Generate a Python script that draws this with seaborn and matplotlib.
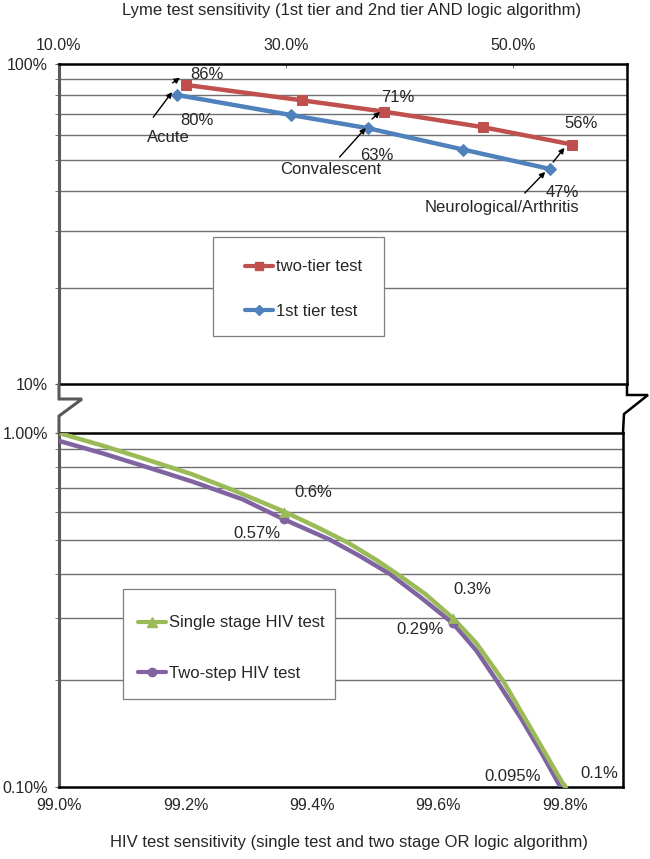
import numpy as np
import pandas as pd
import seaborn as sns
import matplotlib.pyplot as plt
from matplotlib.lines import Line2D
from matplotlib.patches import Rectangle
from matplotlib.ticker import NullFormatter

# Lyme: 1st tier and two-tier sensitivity by disease stage (percent)
lyme_first_x = [20.4, 30.4, 37.2, 45.6, 53.2]
lyme_first_y = [80, 69.3, 63, 54, 47]
lyme_two_x = [21.2, 31.4, 38.6, 47.3, 55.2]
lyme_two_y = [86, 77, 71, 63.5, 56]

# HIV: curves (percent)
hiv_single_x = [99.0, 99.07, 99.14, 99.21, 99.275, 99.356, 99.41, 99.457, 99.50, 99.539,
                99.58, 99.623, 99.66, 99.702, 99.74, 99.772, 99.8]
hiv_single_y = [1.0, 0.92, 0.84, 0.765, 0.69, 0.60, 0.54, 0.49, 0.44, 0.395,
                0.35, 0.30, 0.255, 0.20, 0.153, 0.122, 0.10]
hiv_two_x = [99.0, 99.07, 99.14, 99.21, 99.29, 99.356, 99.428, 99.475, 99.523, 99.575,
             99.623, 99.66, 99.692, 99.73, 99.764, 99.8]
hiv_two_y = [0.95, 0.875, 0.80, 0.73, 0.65, 0.57, 0.50, 0.45, 0.40, 0.34,
             0.29, 0.243, 0.20, 0.157, 0.124, 0.095]
# marked points
hiv_single_mx = [99.356, 99.623, 99.8]
hiv_single_my = [0.6, 0.3, 0.1]
hiv_two_mx = [99.356, 99.623, 99.8]
hiv_two_my = [0.57, 0.29, 0.095]

RED, BLUE, GREEN, PURPLE = "#C0504D", "#4F81BD", "#9BBB59", "#8064A2"
W, H = 650, 859

sns.set_style("white")
plt.rcParams["font.family"] = ["Liberation Sans", "DejaVu Sans"]

fig = plt.figure(figsize=(6.5, 8.59), dpi=100)

def fx(px):
    return px / W

def fy(py):
    return 1 - py / H

ax1 = fig.add_axes([fx(59), fy(384), fx(627 - 59), (384 - 64) / H])
ax2 = fig.add_axes([fx(59), fy(787), fx(623 - 59), (787 - 433) / H])

# ---------- top panel (Lyme) ----------
sns.lineplot(x=lyme_two_x, y=lyme_two_y, ax=ax1, color=RED, lw=3.2, marker="s", markersize=7,
             markeredgecolor=RED, sort=False, legend=False, zorder=3)
sns.lineplot(x=lyme_first_x, y=lyme_first_y, ax=ax1, color=BLUE, lw=3.2, marker="D", markersize=6,
             markeredgecolor=BLUE, sort=False, legend=False, zorder=3)
ax1.set_yscale("log")
ax1.set_xlim(10, 60)
ax1.set_ylim(10, 100)
ax1.xaxis.tick_top()
ax1.set_xticks([10, 30, 50])
ax1.set_xticklabels(["10.0%", "30.0%", "50.0%"])
ax1.set_yticks([10, 100])
ax1.set_yticklabels(["10%", "100%"])
ax1.set_yticks(list(range(20, 100, 10)), minor=True)
ax1.yaxis.set_minor_formatter(NullFormatter())
ax1.tick_params(axis="x", which="major", direction="in", length=3, color="#808080",
                top=True, bottom=False, labeltop=True, labelbottom=False, pad=8, labelsize=11.5)
ax1.tick_params(axis="y", which="both", direction="out", length=3, color="#595959",
                left=True, pad=5, labelsize=11.5)
ax1.set_axisbelow(True)
ax1.grid(axis="y", which="minor", color="#707070", lw=1.0)
ax1.grid(axis="x", visible=False)

# labels and arrows
def arrow(ax, tail, head):
    ax.annotate("", xy=head, xytext=tail,
                arrowprops=dict(arrowstyle="-|>", color="black", lw=1, mutation_scale=8,
                                shrinkA=0, shrinkB=0))

for txt, x, y in [("86%", 23.0, 92.4), ("80%", 22.1, 66.8), ("Acute", 19.6, 59.1),
                  ("71%", 39.8, 78.8), ("63%", 38.0, 51.9), ("Convalescent", 33.9, 46.7),
                  ("56%", 56.0, 65.0), ("47%", 54.3, 39.8), ("Neurological/Arthritis", 49.0, 35.5)]:
    ax1.text(x, y, txt, ha="center", va="center", fontsize=12)
arrow(ax1, (18.3, 68.2), (19.95, 81.7))
arrow(ax1, (20.0, 87.3), (20.65, 90.6))
arrow(ax1, (34.7, 51.2), (37.0, 63.1))
arrow(ax1, (37.55, 67.3), (38.26, 70.8))
arrow(ax1, (51.0, 39.5), (52.8, 46.0))
arrow(ax1, (53.5, 49.4), (54.5, 54.7))

ax1.add_patch(Rectangle((fx(213), fy(336)), fx(384 - 213), (336 - 237) / H, transform=fig.transFigure,
                        facecolor="white", edgecolor="#7f7f7f", lw=0.9, zorder=1.5))
h1 = [Line2D([], [], color=RED, lw=3, marker="s", markersize=6),
      Line2D([], [], color=BLUE, lw=3, marker="D", markersize=5)]
ax1.legend(h1, ["two-tier test", "1st tier test"], loc="upper left",
           bbox_to_anchor=(fx(237), fy(251)), bbox_transform=fig.transFigure, frameon=False,
           borderpad=0, handlelength=1.68, handletextpad=0.15, labelspacing=1.77, fontsize=12)

# ---------- bottom panel (HIV) ----------
sns.lineplot(x=hiv_two_x, y=hiv_two_y, ax=ax2, color=PURPLE, lw=3.2, sort=False, legend=False,
             zorder=3, solid_joinstyle="round")
sns.lineplot(x=hiv_single_x, y=hiv_single_y, ax=ax2, color=GREEN, lw=3.2, sort=False, legend=False,
             zorder=3, solid_joinstyle="round")
sns.scatterplot(x=hiv_two_mx, y=hiv_two_my, ax=ax2, color=PURPLE, marker="o", s=50, linewidth=0,
                legend=False, zorder=4)
sns.scatterplot(x=hiv_single_mx, y=hiv_single_my, ax=ax2, color=GREEN, marker="^", s=60, linewidth=0,
                legend=False, zorder=4)
ax2.set_yscale("log")
ax2.set_xlim(99.0, 99.892)
ax2.set_ylim(0.1, 1.0)
ax2.set_xticks([99.0, 99.2, 99.4, 99.6, 99.8])
ax2.set_xticklabels(["99.0%", "99.2%", "99.4%", "99.6%", "99.8%"])
ax2.set_yticks([0.1, 1.0])
ax2.set_yticklabels(["0.10%", "1.00%"])
ax2.set_yticks([i / 10 for i in range(2, 10)], minor=True)
ax2.yaxis.set_minor_formatter(NullFormatter())
ax2.tick_params(axis="x", which="major", length=0, pad=8, labelsize=11.5)
ax2.tick_params(axis="y", which="both", direction="out", length=3, color="#595959",
                left=True, pad=5, labelsize=11.5)
ax2.set_axisbelow(True)
ax2.grid(axis="y", which="minor", color="#707070", lw=1.0)
ax2.grid(axis="x", visible=False)

for txt, x, y in [("0.6%", 99.402, 0.681), ("0.57%", 99.313, 0.521), ("0.3%", 99.653, 0.362),
                  ("0.29%", 99.571, 0.279), ("0.095%", 99.718, 0.1074), ("0.1%", 99.854, 0.1095)]:
    ax2.text(x, y, txt, ha="center", va="center", fontsize=12)

ax2.add_patch(Rectangle((fx(123), fy(699)), fx(335 - 123), (699 - 589) / H, transform=fig.transFigure,
                        facecolor="white", edgecolor="#7f7f7f", lw=0.9, zorder=1.5))
h2 = [Line2D([], [], color=GREEN, lw=3, marker="^", markersize=7),
      Line2D([], [], color=PURPLE, lw=3, marker="o", markersize=6)]
ax2.legend(h2, ["Single stage HIV test", "Two-step HIV test"], loc="upper left",
           bbox_to_anchor=(fx(130), fy(607)), bbox_transform=fig.transFigure, frameon=False,
           borderpad=0, handlelength=1.68, handletextpad=0.15, labelspacing=2.13, fontsize=12)

# frames
for ax in (ax1, ax2):
    for side in ("top", "right", "bottom"):
        ax.spines[side].set_color("black")
        ax.spines[side].set_linewidth(1.8)
    ax.spines["left"].set_color("#595959")
    ax.spines["left"].set_linewidth(2.2)

# axis break marks
fig.add_artist(Line2D([fx(59), fx(59), fx(82), fx(59), fx(59)],
                      [fy(384), fy(399), fy(399), fy(416), fy(433)],
                      color="#595959", lw=2.2, solid_joinstyle="miter"))
fig.add_artist(Line2D([fx(627), fx(627), fx(648), fx(624), fx(623)],
                      [fy(384), fy(395), fy(395), fy(414), fy(433)],
                      color="black", lw=1.8, solid_joinstyle="miter"))

fig.text(fx(352), fy(10), "Lyme test sensitivity (1st tier and 2nd tier AND logic algorithm)",
         ha="center", va="center", fontsize=12)
fig.text(fx(349), fy(843), "HIV test sensitivity (single test and two stage OR logic algorithm)",
         ha="center", va="center", fontsize=12)

fig.savefig("out.png", dpi=100)
